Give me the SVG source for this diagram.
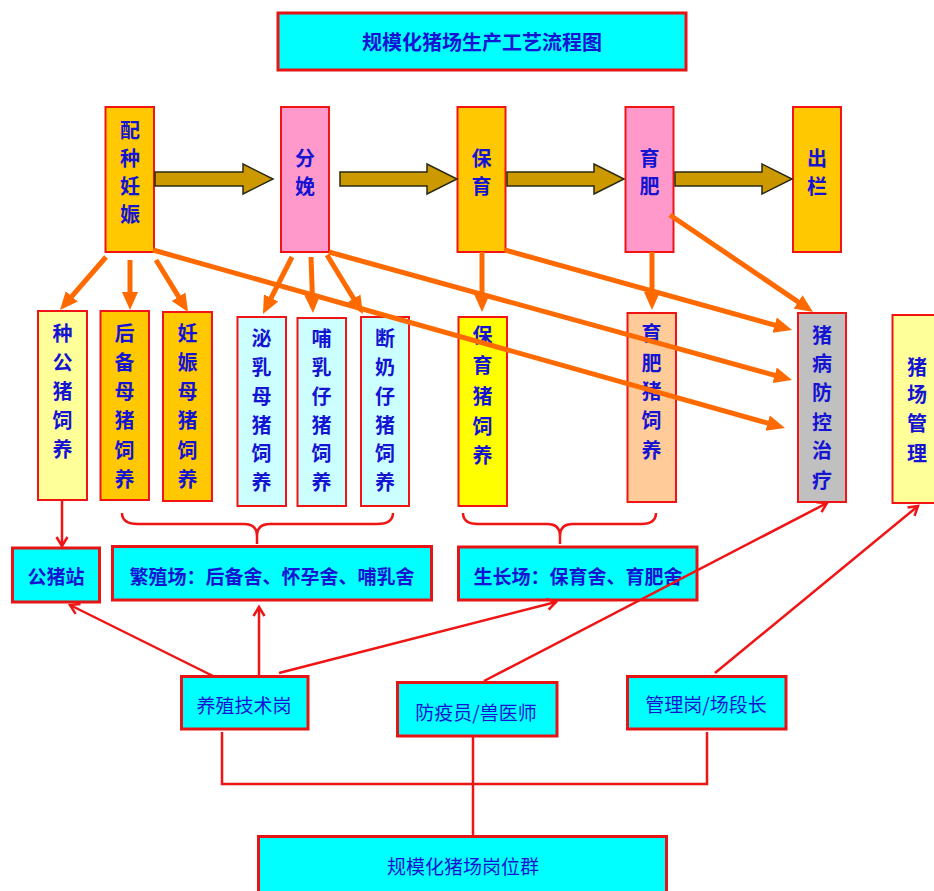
<svg xmlns="http://www.w3.org/2000/svg" width="934" height="891" viewBox="0 0 934 891">
<style>
text{font-family:"Noto Sans CJK SC","Liberation Sans",sans-serif;fill:#1414D2;text-anchor:middle}
.v{font-size:20px;font-weight:bold}
.t{font-size:19px;font-weight:bold}
.s{font-size:19px}
.bx{stroke:#F01414;stroke-width:2}
.cy{fill:#00FFFF;stroke:#E61414;stroke-width:3}
.blk{fill:#CC9A00;stroke:#2A2A10;stroke-width:1.5}
.or{stroke:#FF6A00;stroke-width:5;fill:none;marker-end:url(#oa)}
.rd{stroke:#F01414;stroke-width:2.5;fill:none}
.ra{marker-end:url(#ra)}
</style>
<defs>
<marker id="oa" markerUnits="userSpaceOnUse" markerWidth="20" markerHeight="20" viewBox="0 0 20 20" refX="4" refY="10" orient="auto">
<path d="M0,2 L18,10 L0,18 z" fill="#FF6A00"/>
</marker>
<marker id="ra" markerUnits="userSpaceOnUse" markerWidth="14" markerHeight="14" viewBox="0 0 14 14" refX="11" refY="7" orient="auto">
<path d="M2,1.5 L11,7 L2,12.5" fill="none" stroke="#F01414" stroke-width="2.5"/>
</marker>
</defs>
<rect width="934" height="891" fill="#FFFFFF"/>

<g id="title">
<rect class="cy" x="278" y="13" width="408" height="57"/>
<text class="t" x="482" y="50" style="font-size:20px">规模化猪场生产工艺流程图</text>
</g>

<g id="n-peizhong">
<rect class="bx" x="105.5" y="107" width="48.5" height="145" fill="#FFC800"/>
<text class="v" x="130"><tspan x="130" y="138">配</tspan><tspan x="130" y="166">种</tspan><tspan x="130" y="194">妊</tspan><tspan x="130" y="222">娠</tspan></text>
</g>
<g id="n-fenmian">
<rect class="bx" x="281" y="107" width="48" height="145" fill="#FF99CC"/>
<text class="v"><tspan x="305" y="166">分</tspan><tspan x="305" y="194">娩</tspan></text>
</g>
<g id="n-baoyu">
<rect class="bx" x="457.5" y="107" width="48" height="145" fill="#FFC800"/>
<text class="v"><tspan x="481.5" y="166">保</tspan><tspan x="481.5" y="194">育</tspan></text>
</g>
<g id="n-yufei">
<rect class="bx" x="625.5" y="107" width="48" height="145" fill="#FF99CC"/>
<text class="v"><tspan x="649.5" y="166">育</tspan><tspan x="649.5" y="194">肥</tspan></text>
</g>
<g id="n-chulan">
<rect class="bx" x="793" y="107" width="48" height="145" fill="#FFC800"/>
<text class="v"><tspan x="817" y="166">出</tspan><tspan x="817" y="194">栏</tspan></text>
</g>

<g id="block-arrows">
<path class="blk" d="M155,172 L243,172 L243,164 L273,179 L243,194 L243,186 L155,186 z"/>
<path class="blk" d="M340,172 L427,172 L427,164 L457,179 L427,194 L427,186 L340,186 z"/>
<path class="blk" d="M507,172 L594,172 L594,164 L624,179 L594,194 L594,186 L507,186 z"/>
<path class="blk" d="M675,172 L762,172 L762,164 L792,179 L762,194 L762,186 L675,186 z"/>
</g>

<g id="n-zhonggong">
<rect class="bx" x="38" y="311" width="49" height="189" fill="#FFFF99"/>
<text class="v"><tspan x="62.5" y="341">种</tspan><tspan x="62.5" y="370">公</tspan><tspan x="62.5" y="399">猪</tspan><tspan x="62.5" y="428">饲</tspan><tspan x="62.5" y="457">养</tspan></text>
</g>
<g id="n-houbei">
<rect class="bx" x="100.5" y="311" width="48.5" height="189" fill="#FFC800"/>
<text class="v"><tspan x="124.5" y="341">后</tspan><tspan x="124.5" y="370">备</tspan><tspan x="124.5" y="399">母</tspan><tspan x="124.5" y="428">猪</tspan><tspan x="124.5" y="458">饲</tspan><tspan x="124.5" y="487">养</tspan></text>
</g>
<g id="n-renshen">
<rect class="bx" x="163" y="312" width="49" height="189" fill="#FFC800"/>
<text class="v"><tspan x="187.5" y="341">妊</tspan><tspan x="187.5" y="370">娠</tspan><tspan x="187.5" y="399">母</tspan><tspan x="187.5" y="428">猪</tspan><tspan x="187.5" y="458">饲</tspan><tspan x="187.5" y="487">养</tspan></text>
</g>
<g id="n-miru">
<rect class="bx" x="237.5" y="317" width="48.5" height="189" fill="#CCFFFF"/>
<text class="v"><tspan x="261.5" y="346">泌</tspan><tspan x="261.5" y="375">乳</tspan><tspan x="261.5" y="404">母</tspan><tspan x="261.5" y="433">猪</tspan><tspan x="261.5" y="461">饲</tspan><tspan x="261.5" y="490">养</tspan></text>
</g>
<g id="n-buru">
<rect class="bx" x="297.5" y="318" width="48.5" height="188" fill="#CCFFFF"/>
<text class="v"><tspan x="321.5" y="346">哺</tspan><tspan x="321.5" y="375">乳</tspan><tspan x="321.5" y="404">仔</tspan><tspan x="321.5" y="433">猪</tspan><tspan x="321.5" y="461">饲</tspan><tspan x="321.5" y="490">养</tspan></text>
</g>
<g id="n-duannai">
<rect class="bx" x="361" y="317" width="48" height="189" fill="#CCFFFF"/>
<text class="v"><tspan x="385" y="346">断</tspan><tspan x="385" y="375">奶</tspan><tspan x="385" y="404">仔</tspan><tspan x="385" y="433">猪</tspan><tspan x="385" y="461">饲</tspan><tspan x="385" y="490">养</tspan></text>
</g>
<g id="n-baoyuzhu">
<rect class="bx" x="458.5" y="317" width="48.5" height="189" fill="#FFFF00"/>
<text class="v"><tspan x="482.5" y="343">保</tspan><tspan x="482.5" y="373">育</tspan><tspan x="482.5" y="404">猪</tspan><tspan x="482.5" y="434">饲</tspan><tspan x="482.5" y="463">养</tspan></text>
</g>
<g id="n-yufeizhu">
<rect class="bx" x="627.5" y="313" width="48.5" height="189" fill="#FFCC99"/>
<text class="v"><tspan x="651.5" y="341">育</tspan><tspan x="651.5" y="371">肥</tspan><tspan x="651.5" y="399">猪</tspan><tspan x="651.5" y="428">饲</tspan><tspan x="651.5" y="458">养</tspan></text>
</g>
<g id="n-zhubing">
<rect class="bx" x="798" y="313" width="48" height="189" fill="#C0C0C0"/>
<text class="v"><tspan x="822" y="343">猪</tspan><tspan x="822" y="371">病</tspan><tspan x="822" y="400">防</tspan><tspan x="822" y="430">控</tspan><tspan x="822" y="458">治</tspan><tspan x="822" y="488">疗</tspan></text>
</g>
<g id="n-guanli">
<rect class="bx" x="892.5" y="315" width="50" height="188" fill="#FFFF99"/>
<text class="v"><tspan x="917" y="375">猪</tspan><tspan x="917" y="402">场</tspan><tspan x="917" y="431">管</tspan><tspan x="917" y="461">理</tspan></text>
</g>

<g id="n-gongzhuzhan">
<rect class="cy" x="12.5" y="548" width="87" height="54"/>
<text class="t" x="56" y="584">公猪站</text>
</g>
<g id="n-fanzhi">
<rect class="cy" x="112.5" y="546.5" width="319" height="53.5"/>
<text class="t" x="272" y="584">繁殖场：后备舍、怀孕舍、哺乳舍</text>
</g>
<g id="n-shengzhang">
<rect class="cy" x="458.5" y="547" width="238.5" height="53"/>
<text class="t" x="578" y="584">生长场：保育舍、育肥舍</text>
</g>

<g id="n-yangzhi">
<rect class="cy" x="181.5" y="676.5" width="126.5" height="52.5"/>
<text class="s" x="244" y="713">养殖技术岗</text>
</g>
<g id="n-fangyi">
<rect class="cy" x="397.5" y="682.5" width="159.5" height="53.5"/>
<text class="s" x="476" y="720">防疫员/兽医师</text>
</g>
<g id="n-guanligang">
<rect class="cy" x="627.5" y="676.5" width="158.5" height="52.5"/>
<text class="s" x="706" y="712">管理岗/场段长</text>
</g>
<g id="n-gangweiqun">
<rect class="cy" x="258.5" y="836.5" width="408" height="58"/>
<text class="s" x="463" y="874">规模化猪场岗位群</text>
</g>

<g id="connectors">
<path class="or" d="M106,257 L69.2,299.4"/>
<path class="or" d="M130,260 L130,296"/>
<path class="or" d="M156,260 L180.7,300.1"/>
<path class="or" d="M153,250 L771.5,424.2"/>
<path class="or" d="M292,257 L269.3,301.5"/>
<path class="or" d="M311,257 L312.5,299"/>
<path class="or" d="M327,255 L355.7,302"/>
<path class="or" d="M329,252 L778.5,376.3"/>
<path class="or" d="M482,252 L482,298"/>
<path class="or" d="M505,250 L778.5,326.2"/>
<path class="or" d="M652,252 L652,296"/>
<path class="or" d="M670,215 L801.4,304.1"/>

<path class="rd" d="M122,513 Q122,524 138,524 L244,524 Q257,524 257,536 L257,544 M257,536 Q257,524 270,524 L377,524 Q393,524 393,513"/>
<path class="rd" d="M463,513 Q463,524 478,524 L547,524 Q560,524 560,536 L560,544 M560,536 Q560,524 573,524 L641,524 Q656,524 656,513"/>

<path class="rd ra" d="M62,500 L62,546"/>
<path class="rd ra" d="M213,676 L70,605"/>
<path class="rd ra" d="M259,676 L259,607"/>
<path class="rd ra" d="M279,673 L556,602"/>
<path class="rd ra" d="M484,681 L827,503"/>
<path class="rd ra" d="M715,673 L918,506"/>

<path class="rd" d="M222,732 L222,784 L707,784 L707,732"/>
<path class="rd" d="M473,736 L473,836"/>
</g>
</svg>
